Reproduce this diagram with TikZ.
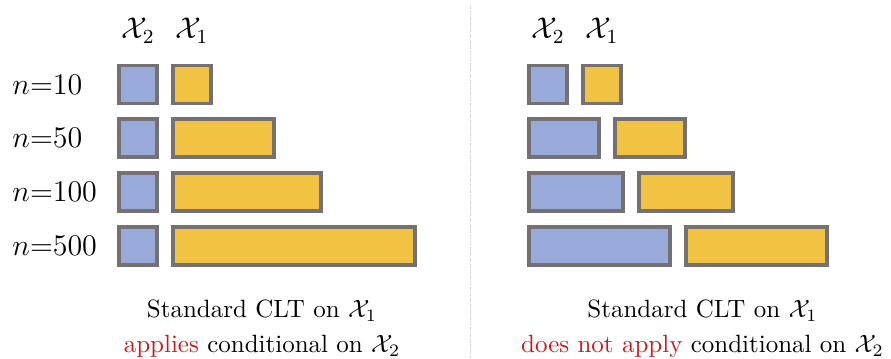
\documentclass[tikz,border=0pt]{standalone}
\usepackage{amsmath,amssymb}
\usepackage{tikz}
\usetikzlibrary{positioning}

\definecolor{cltblue}{HTML}{97AAD9}
\definecolor{cltyellow}{HTML}{F2C343}
\definecolor{cltgray}{HTML}{767171}
\definecolor{cltred}{HTML}{C8191E}
\definecolor{divgray}{HTML}{D9D9D9}

\begin{document}
\begin{tikzpicture}[
    node distance=4.8pt,
    box/.style={rectangle, draw=cltgray, line width=1.5pt, inner sep=0pt, minimum width=15.2pt, minimum height=15.2pt},
    bluebox/.style={box, fill=cltblue},
    yellowbox/.style={box, fill=cltyellow},
    header/.style={font=\large, inner sep=2pt},
    rowlabel/.style={anchor=west, inner sep=0pt, font=\large},
    captiontext/.style={align=center},
    divider/.style={divgray, line width=0.4pt, dash pattern=on 1.6pt off 0.7pt}
]
    \useasboundingbox (0,0) rectangle (356.4pt,-143.2pt);

    % Left: blocks on X_2 stay small
    \node[bluebox] (lb1) at (55.2pt,-33.8pt) {};
    \node[bluebox, below=of lb1] (lb2) {};
    \node[bluebox, below=of lb2] (lb3) {};
    \node[bluebox, below=of lb3] (lb4) {};

    \node[yellowbox, right=of lb1] (ly1) {};
    \node[yellowbox, right=of lb2, minimum width=40.4pt] (ly2) {};
    \node[yellowbox, right=of lb3, minimum width=59.4pt] (ly3) {};
    \node[yellowbox, right=of lb4, minimum width=96.8pt] (ly4) {};

    % Headers
    \node[header, above=6pt of lb1] (lx2) {$\mathcal{X}_2$};
    \node[header, above=6pt of ly1] (lx1) {$\mathcal{X}_1$};

    % Sample sizes
    \node[rowlabel] (n10) at (4.8pt,0 |- lb1) {$n{=}10$};
    \node[rowlabel] (n50) at (4.8pt,0 |- lb2) {$n{=}50$};
    \node[rowlabel] (n100) at (4.8pt,0 |- lb3) {$n{=}100$};
    \node[rowlabel] (n500) at (4.8pt,0 |- lb4) {$n{=}500$};

    \node[captiontext] (capl) at (104.8pt,-131.5pt) {Standard CLT on $\mathcal{X}_1$\\[2pt]\textcolor{cltred}{applies} conditional on $\mathcal{X}_2$};

    % Divider
    \coordinate (dtop) at (188.3pt,-2pt);
    \coordinate (dbot) at (188.3pt,-143.2pt);
    \draw[divider] (dtop) -- (dbot);

    % Right: both blocks grow
    \node[bluebox] (rb1) at (219.2pt,-33.8pt) {};
    \node[bluebox, below=of rb1.south west, anchor=north west, minimum width=28pt] (rb2) {};
    \node[bluebox, below=of rb2.south west, anchor=north west, minimum width=37.6pt] (rb3) {};
    \node[bluebox, below=of rb3.south west, anchor=north west, minimum width=56.4pt] (rb4) {};

    \node[yellowbox, right=of rb1] (ry1) {};
    \node[yellowbox, right=of rb2, minimum width=28pt] (ry2) {};
    \node[yellowbox, right=of rb3, minimum width=37.6pt] (ry3) {};
    \node[yellowbox, right=of rb4, minimum width=56.4pt] (ry4) {};

    \node[header, above=6pt of rb1] (rx2) {$\mathcal{X}_2$};
    \node[header, above=6pt of ry1] (rx1) {$\mathcal{X}_1$};

    \node[captiontext] (capr) at (281pt,-131.5pt) {Standard CLT on $\mathcal{X}_1$\\[2pt]\textcolor{cltred}{does not apply} conditional on $\mathcal{X}_2$};

\end{tikzpicture}
\end{document}
